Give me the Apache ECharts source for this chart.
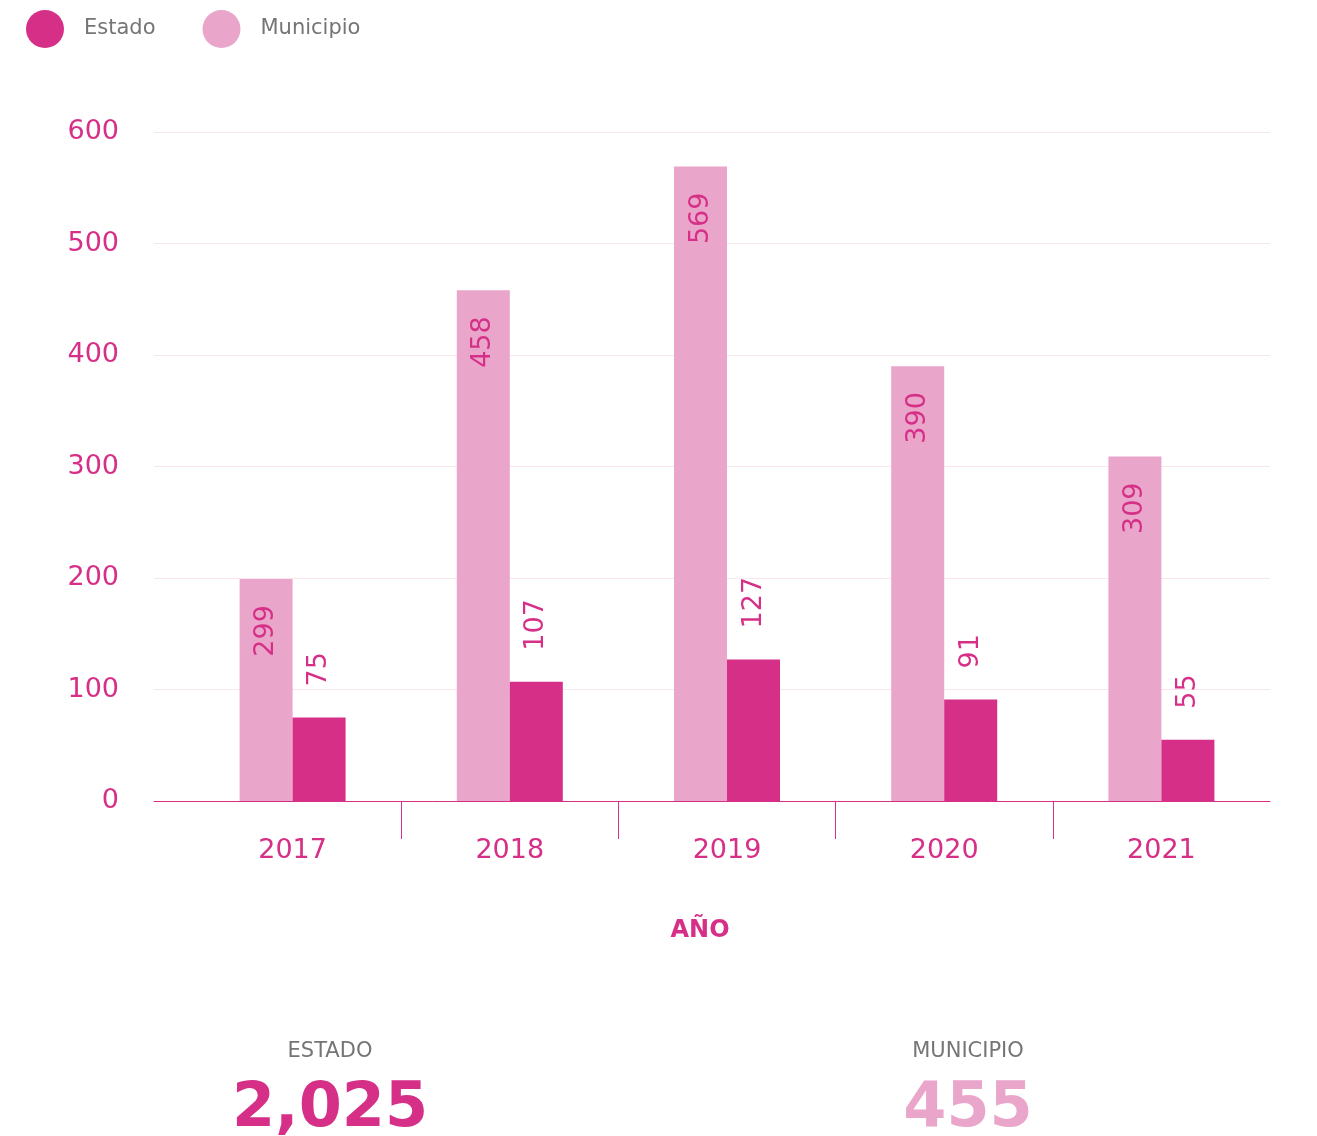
<!DOCTYPE html>
<html>
<head>
<meta charset="utf-8">
<script src="https://cdn.jsdelivr.net/npm/echarts@6/dist/echarts.min.js"></script>
<style>
  html, body { margin: 0; padding: 0; background: #fff; }
  #main { width: 1317px; height: 1136px; }
</style>
</head>
<body>
<div id="main"></div>
<script>
const anios = ["2017", "2018", "2019", "2020", "2021"];
// bar heights as drawn in the picture (2017 bar is drawn lower than its label says)
const municipio = [199, 458, 569, 390, 309];
const municipioEtiquetas = ["299", "458", "569", "390", "309"];
const estado = [75, 107, 127, 91, 55];
const resumenNombres = ["ESTADO", "MUNICIPIO"];
const resumenValores = ["2,025", "455"];

const rosa = "#d62f87";
const rosaClaro = "#eaa6ca";
const gris = "#757575";
const fuente = "DejaVu Sans";

const chart = echarts.init(document.getElementById("main"));

const option = {
  animation: false,
  textStyle: { fontFamily: fuente },
  legend: {
    data: ["Estado", "Municipio"],
    left: 21,
    top: 5,
    icon: "circle",
    itemWidth: 38,
    itemHeight: 38,
    itemGap: 47,
    textStyle: { color: gris, fontSize: 21, fontFamily: fuente, padding: [0, 0, 0, 15] },
  },
  grid: [
    // full-width grid: y labels, split lines, axis line
    { left: 154, right: 47, top: 132, bottom: 335 },
    // bars
    { left: 184, right: 47, top: 132, bottom: 335 },
    // inner separator ticks only (between the years)
    { left: 401, right: 264, top: 132, bottom: 335 },
  ],
  xAxis: [
    {
      gridIndex: 0,
      type: "category",
      data: anios,
      axisLine: { show: true, lineStyle: { color: rosa, width: 1 } },
      axisTick: { show: false },
      axisLabel: { show: false },
    },
    {
      gridIndex: 1,
      type: "category",
      data: anios,
      axisLine: { show: false },
      axisTick: { show: false },
      axisLabel: { color: rosa, fontSize: 27, fontFamily: fuente, margin: 36 },
      name: "AÑO",
      nameLocation: "middle",
      nameGap: 118,
      nameTextStyle: { color: rosa, fontSize: 24, fontWeight: "bold", fontFamily: fuente, padding: [0, 54, 0, 0] },
    },
    {
      gridIndex: 2,
      type: "category",
      data: anios.slice(1, 4),
      axisLine: { show: false },
      axisTick: { show: true, length: 38, interval: 0, lineStyle: { color: rosa, width: 1 } },
      axisLabel: { show: false },
    },
  ],
  yAxis: [
    {
      gridIndex: 0,
      type: "value",
      min: 0,
      max: 600,
      interval: 100,
      axisLine: { show: false },
      axisTick: { show: false },
      axisLabel: { color: rosa, fontSize: 27, fontFamily: fuente, margin: 35 },
      splitLine: { lineStyle: { color: "#fbe6f0", width: 1 } },
    },
    { gridIndex: 1, type: "value", min: 0, max: 600, interval: 100, show: false, splitLine: { show: false } },
    { gridIndex: 2, type: "value", min: 0, max: 600, interval: 100, show: false, splitLine: { show: false } },
  ],
  series: [
    {
      name: "Municipio",
      type: "bar",
      xAxisIndex: 1,
      yAxisIndex: 1,
      data: municipio,
      barWidth: 53,
      barGap: "0%",
      itemStyle: { color: rosaClaro },
      label: {
        show: true,
        position: "insideTop",
        rotate: 90,
        align: "right",
        verticalAlign: "middle",
        distance: 26,
        color: rosa,
        fontSize: 27,
        fontFamily: fuente,
        formatter: (p) => municipioEtiquetas[p.dataIndex],
      },
    },
    {
      name: "Estado",
      type: "bar",
      xAxisIndex: 1,
      yAxisIndex: 1,
      data: estado,
      barWidth: 53,
      barGap: "0%",
      itemStyle: { color: rosa },
      label: {
        show: true,
        position: "top",
        rotate: 90,
        align: "left",
        verticalAlign: "middle",
        distance: 31,
        color: rosa,
        fontSize: 27,
        fontFamily: fuente,
      },
    },
  ],
  graphic: [
    {
      type: "text",
      x: 330,
      y: 1041,
      style: { text: resumenNombres[0], fill: gris, font: "21px " + fuente, align: "center" },
    },
    {
      type: "text",
      x: 330,
      y: 1079,
      style: { text: resumenValores[0], fill: rosa, font: "bold 62px " + fuente, align: "center" },
    },
    {
      type: "text",
      x: 968,
      y: 1041,
      style: { text: resumenNombres[1], fill: gris, font: "21px " + fuente, align: "center" },
    },
    {
      type: "text",
      x: 968,
      y: 1079,
      style: { text: resumenValores[1], fill: rosaClaro, font: "bold 62px " + fuente, align: "center" },
    },
  ],
};

chart.setOption(option);
</script>
</body>
</html>
